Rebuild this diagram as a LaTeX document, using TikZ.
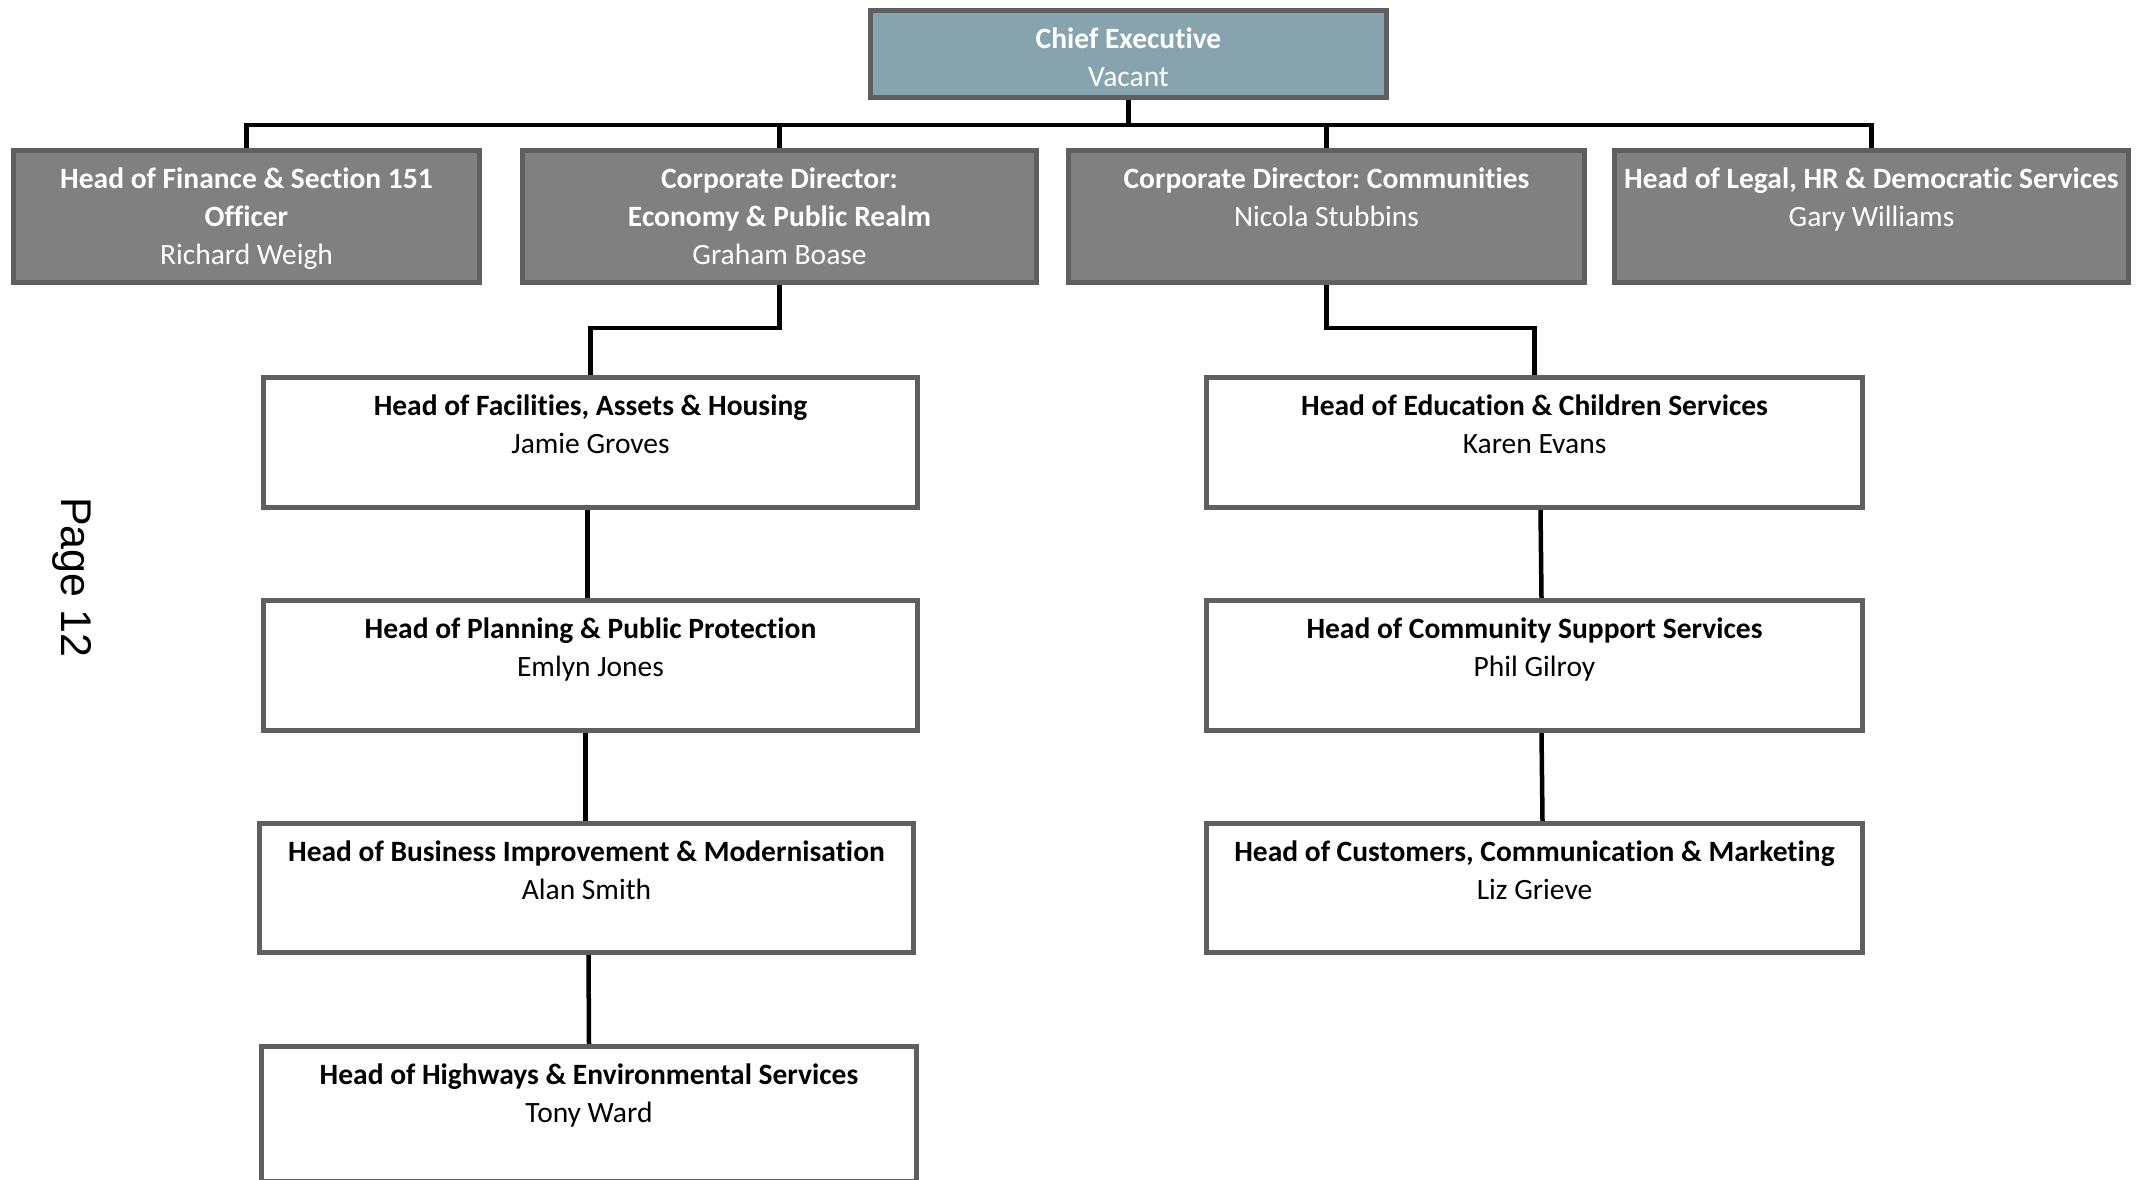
\documentclass[tikz,border=0pt]{standalone}
\usepackage{fontspec}
\setmainfont[Ligatures={NoCommon}]{Carlito}
\newfontfamily\pagefont{Liberation Sans}
\pgfdeclarelayer{background}
\pgfsetlayers{background,main}
\definecolor{cefill}{HTML}{87A3AE}
\definecolor{lvfill}{HTML}{808080}
\definecolor{bordergray}{HTML}{5F5F5F}
\frenchspacing
\newcommand\boxtext[3]{\parbox[c][#2pt][t]{#1pt}{\centering\vspace*{11.5pt}\strut #3}}
\begin{document}
\begin{tikzpicture}[x=1pt,y=-1pt,
  orgbox/.style={rectangle,draw=bordergray,line width=5pt,inner sep=0pt,
    font=\fontsize{29.5}{38}\selectfont},
  cebox/.style={orgbox,fill=cefill,text=white},
  lvbox/.style={orgbox,fill=lvfill,text=white},
  whbox/.style={orgbox,fill=white,text=black},
  conn/.style={draw=black,line width=4.5pt,line join=miter}]
\useasboundingbox (0,0) rectangle (2141,1179);

\node[cebox] (ce) at (1128.5,54) {\boxtext{516}{87}{\textbf{Chief Executive}\\Vacant}};

\node[lvbox] (fin) at (246.5,216.5) {\boxtext{466}{132}{\textbf{Head of Finance \& Section 151}\\\textbf{Officer}\\Richard Weigh}};
\node[lvbox] (econ) at (779.5,216.5) {\boxtext{514}{132}{\textbf{Corporate Director:}\\\textbf{Economy \& Public Realm}\\Graham Boase}};
\node[lvbox] (comm) at (1326.5,216.5) {\boxtext{516}{132}{\textbf{Corporate Director: Communities}\\Nicola Stubbins}};
\node[lvbox] (legal) at (1871.5,216.5) {\boxtext{514}{132}{\textbf{Head of Legal, HR \& Democratic Services}\\Gary Williams}};

\node[whbox] (fac) at (590.5,442.5) {\boxtext{654}{130}{\textbf{Head of Facilities, Assets \& Housing}\\Jamie Groves}};
\node[whbox] (pla) at (590.5,665.5) {\boxtext{654}{130}{\textbf{Head of Planning \& Public Protection}\\Emlyn Jones}};
\node[whbox] (biz) at (586.5,888) {\boxtext{654}{129}{\textbf{Head of Business Improvement \& Modernisation}\\Alan Smith}};
\node[whbox] (hwy) at (589,1114) {\boxtext{655}{135}{\textbf{Head of Highways \& Environmental Services}\\Tony Ward}};

\node[whbox] (edu) at (1534.5,442.5) {\boxtext{656}{130}{\textbf{Head of Education \& Children Services}\\Karen Evans}};
\node[whbox] (csup) at (1534.5,665.5) {\boxtext{656}{130}{\textbf{Head of Community Support Services}\\Phil Gilroy}};
\node[whbox] (cust) at (1534.5,888) {\boxtext{656}{129}{\textbf{Head of Customers, Communication \& Marketing}\\Liz Grieve}};

\node[rotate=-90,anchor=base west,inner sep=0pt,font=\pagefont\fontsize{43}{50}\selectfont] (page) at (61,497) {Page 12};

\coordinate (bus) at (0,125);
\coordinate (elbow) at (0,328);
\begin{pgfonlayer}{background}
\fill[white] (0,0) rectangle (2141,1179);
\draw[conn] (ce.south) -- (ce.south |- bus);
\draw[conn] (fin.north) -- (fin.north |- bus) -- (legal.north |- bus) -- (legal.north);
\draw[conn] (econ.north) -- (econ.north |- bus);
\draw[conn] (comm.north) -- (comm.north |- bus);
\draw[conn] (econ.south) -- (econ.south |- elbow) -| (fac.north);
\draw[conn] (comm.south) -- (comm.south |- elbow) -| (edu.north);
\draw[conn] ([xshift=-3pt]fac.south) -- ([xshift=-3pt]pla.north);
\draw[conn] ([xshift=-5pt]pla.south) -- ([xshift=-1pt]biz.north);
\draw[conn] ([xshift=2pt]biz.south) -- (hwy.north);
\draw[conn] ([xshift=6pt]edu.south) -- ([xshift=7pt]csup.north);
\draw[conn] ([xshift=7pt]csup.south) -- ([xshift=8pt]cust.north);
\end{pgfonlayer}
\end{tikzpicture}
\end{document}
